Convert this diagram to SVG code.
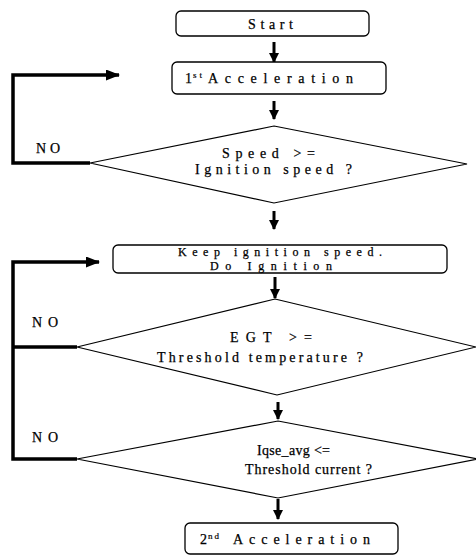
<svg xmlns="http://www.w3.org/2000/svg" width="476" height="556" viewBox="0 0 476 556">
<style>
.box{fill:#fff;stroke:#000;stroke-width:1.3}
.dia{fill:#fff;stroke:#000;stroke-width:1.2}
.t{font-family:"Liberation Serif","Times New Roman",serif;font-size:14px;fill:#000;stroke:#000;stroke-width:0.25}
.s{font-size:12px}
.sup{font-family:"Liberation Serif","Times New Roman",serif;font-size:9px;fill:#000;stroke:#000;stroke-width:0.2}
.down{stroke:#000;stroke-width:3;fill:none}
.fb{stroke:#000;stroke-width:3.5;fill:none;stroke-linejoin:miter}
</style>
<defs>
<marker id="ah" viewBox="0 0 10 10" refX="9" refY="5" markerWidth="10" markerHeight="10" markerUnits="userSpaceOnUse" orient="auto"><path d="M0,0 L10,5 L0,10 z" fill="#000"/></marker>
<marker id="ah2" viewBox="0 0 14 11" refX="13" refY="5.5" markerWidth="14" markerHeight="11" markerUnits="userSpaceOnUse" orient="auto"><path d="M0,0 L14,5.5 L0,11 z" fill="#000"/></marker>
</defs>
<rect width="476" height="556" fill="#fff"/>
<g id="connectors">
<line class="down" x1="274" y1="42" x2="274" y2="62" marker-end="url(#ah)"/>
<line class="down" x1="274" y1="101" x2="274" y2="119" marker-end="url(#ah)"/>
<line class="down" x1="274" y1="211" x2="274" y2="229" marker-end="url(#ah)"/>
<line class="down" x1="275" y1="277" x2="275" y2="298" marker-end="url(#ah)"/>
<line class="down" x1="278" y1="402" x2="278" y2="419" marker-end="url(#ah)"/>
<line class="down" x1="278" y1="499" x2="278" y2="519" marker-end="url(#ah)"/>
<polyline class="fb" points="90,163 13,163 13,75 119,75" marker-end="url(#ah2)"/>
<polyline class="fb" points="77,459 13,459 13,262 99,262" marker-end="url(#ah2)"/>
<line class="fb" x1="13" y1="347" x2="77" y2="347"/>
</g>
<g id="start">
<rect class="box" x="176" y="11" width="193" height="25" rx="5"/>
<text class="t" x="248" y="29" textLength="45" lengthAdjust="spacing">Start</text>
</g>
<g id="accel1">
<rect class="box" x="172" y="62" width="214" height="32" rx="5"/>
<text class="t" x="185" y="83">1</text>
<text class="sup" x="193" y="78" textLength="9" lengthAdjust="spacing">st</text>
<text class="t" x="208" y="83" textLength="145" lengthAdjust="spacing">Acceleration</text>
</g>
<g id="speed-check">
<polygon class="dia" points="274,126 467,164 274,203 90,163"/>
<text class="t" x="222" y="158" textLength="93" lengthAdjust="spacing">Speed &gt;=</text>
<text class="t" x="195" y="174" textLength="157" lengthAdjust="spacing">Ignition speed ?</text>
<text class="t" x="36" y="153" textLength="24" lengthAdjust="spacing">NO</text>
</g>
<g id="ignition">
<rect class="box" x="113" y="245" width="334" height="28" rx="5"/>
<text class="t s" x="178" y="256" textLength="204" lengthAdjust="spacing">Keep ignition speed.</text>
<text class="t s" x="210" y="270" textLength="122" lengthAdjust="spacing">Do Ignition</text>
</g>
<g id="egt-check">
<polygon class="dia" points="275,299 476,347 277,395 77,347"/>
<text class="t" x="230" y="342" textLength="82" lengthAdjust="spacing">EGT &gt;=</text>
<text class="t" x="157" y="362" textLength="206" lengthAdjust="spacing">Threshold temperature ?</text>
<text class="t" x="32" y="327" textLength="26" lengthAdjust="spacing">NO</text>
</g>
<g id="current-check">
<polygon class="dia" points="278,421 478,459 278,498 77,459"/>
<text class="t" x="257" y="455" textLength="73" lengthAdjust="spacing">Iqse_avg &lt;=</text>
<text class="t" x="245" y="474" textLength="127" lengthAdjust="spacing">Threshold current ?</text>
<text class="t" x="32" y="442" textLength="26" lengthAdjust="spacing">NO</text>
</g>
<g id="accel2">
<rect class="box" x="185" y="523" width="213" height="31" rx="5"/>
<text class="t" x="200" y="544">2</text>
<text class="sup" x="208" y="539" textLength="11" lengthAdjust="spacing">nd</text>
<text class="t" x="233" y="544" textLength="137" lengthAdjust="spacing">Acceleration</text>
</g>
</svg>
